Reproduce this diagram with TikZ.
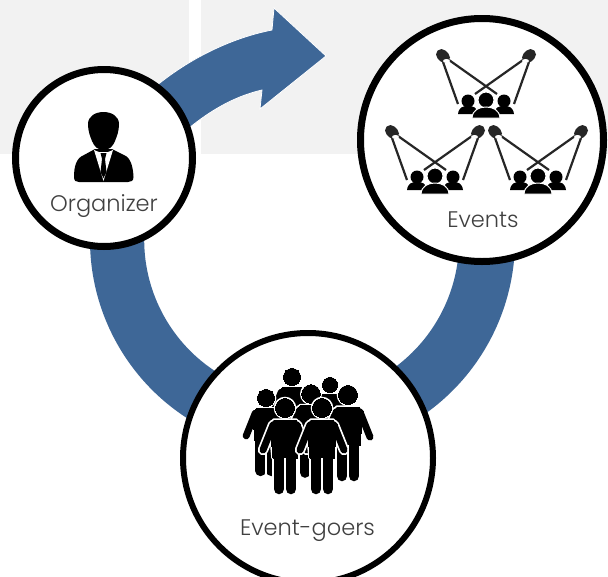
\documentclass[tikz,border=0pt]{standalone}
\usepackage{fontspec}
\setmainfont{Poppins Light}
\definecolor{ringblue}{HTML}{3E6797}
\definecolor{panelgrey}{HTML}{F2F2F2}
\definecolor{labelgrey}{HTML}{404040}
\tikzset{
  panel/.style={fill=panelgrey,draw=none},
  band/.style={fill=ringblue,draw=none},
  arrowband/.style={fill=ringblue,draw=white,line width=0.8pt,line join=miter},
  hub/.style={circle,draw=black,fill=white,inner sep=0pt},
  caption/.style={text=labelgrey,inner sep=0pt,font=\fontsize{22.5}{26}\selectfont},
  ink/.style={fill=black,draw=none}
}
% one standing figure: head at (#1,#2), scale #3
\newcommand\standingman[3]{%
  \begin{scope}[shift={(#1,#2)},scale=#3]
    \foreach \c/\w in {white/3.5,black/0}{%
      \path[fill=\c,draw=\c,line width=\w pt] (0,0) circle (9.5);
      \path[fill=\c,draw=\c,line width=\w pt,line join=round]
        (-11,12) -- (11,12) -- (15,16) -- (12,50) -- (-12,50) -- (-15,16) -- cycle;
      \draw[\c,line width=7pt+\w pt,line cap=round] (-12,17) -- (-22,42);
      \draw[\c,line width=7pt+\w pt,line cap=round] (12,17) -- (22,42);
      \draw[\c,line width=10.5pt+\w pt,line cap=round] (-6,48) -- (-6,81);
      \draw[\c,line width=10.5pt+\w pt,line cap=round] (6,48) -- (6,81);
    }
    \draw[white,line width=1.6pt] (0,50) -- (0,87);
  \end{scope}}
% one spotlight-and-audience group: centre head at (#1,#2)
\newcommand\showgroup[2]{%
  \begin{scope}[shift={(#1,#2)}]
    \foreach \s in {-1,1}{%
      \begin{scope}[xscale=\s]
        \draw[black!85,line width=2.2pt] (-43,-39) -- (-28,3);
        \draw[black!85,line width=2.2pt] (-37,-41) -- (11,-7);
        \draw[black!85,line width=11pt,line cap=round] (-44.5,-46.5) -- (-41.5,-43.5);
        \path[fill=white] (-39.5,-40) ellipse (3.5 and 2);
        \path[ink] (-18,0) circle (6.5);
        \path[ink] (-28,13) .. controls (-27,6) and (-23,5) .. (-18,5)
          .. controls (-13,5) and (-9,6) .. (-8,13) -- cycle;
      \end{scope}}
    \path[ink,draw=white,line width=1pt] (0,-1) circle (8);
    \path[ink,draw=white,line width=1pt] (-14,17) .. controls (-13.5,9) and (-7,6) .. (0,6)
      .. controls (7,6) and (13.5,9) .. (14,17) -- cycle;
  \end{scope}}
\begin{document}
\begin{tikzpicture}[x=1pt,y=-1pt]
\useasboundingbox (0,0) rectangle (608,576);
\path[fill=white] (0,0) rectangle (608,576);
\path[panel] (0,0) rectangle (189,154);
\path[panel] (201,0) rectangle (608,154);
% ring
\path[band] (90,240) arc[start angle=180,delta angle=-58,radius=212]
  -- (218,373) arc[start angle=122,delta angle=58,radius=157] -- cycle;
\path[band] (515,240) arc[start angle=0,delta angle=54,radius=213]
  -- (394,368) arc[start angle=54,delta angle=-54,radius=158] -- cycle;
% curved arrow
\path[arrowband] (140,100) .. controls (178,64) and (226,39) .. (272,30)
  -- (274,8) -- (326,56) -- (260,109) -- (262,90)
  .. controls (232,97) and (205,113) .. (175,140) -- cycle;
% hubs
\node[hub,line width=7pt,minimum size=177pt] (org) at (104,158) {};
\node[hub,line width=7pt,minimum size=243pt] (evt) at (482,140) {};
\node[hub,line width=6pt,minimum size=250pt] (goers) at (308,458) {};
\node[caption] (orglabel) at (104,206) {Organizer};
\node[caption] (evtlabel) at (483,220) {Events};
\node[caption] (goerslabel) at (307.5,531) {Event-goers};
% organizer icon
\path[ink] (74,177) .. controls (74,167) and (76,158) .. (84,155)
  -- (95,149) -- (112,149) -- (124,155)
  .. controls (131,158) and (133,167) .. (133.5,177)
  .. controls (133.5,181) and (131,182) .. (128,182) -- (79,182)
  .. controls (76,182) and (74,181) .. (74,177) -- cycle;
\path[fill=white] (94,150) -- (103.5,181) -- (113,150) -- (108,152) -- (99,152) -- cycle;
\path[ink] (100.5,153) -- (106.5,153) -- (105,159) -- (106.5,172) -- (103.5,178) -- (100.5,172) -- (102,159) -- cycle;
\path[ink] (88,124) .. controls (88,108) and (119,108) .. (119,124)
  .. controls (119,131) and (117,136) .. (115,141)
  .. controls (111,153) and (96,153) .. (92,141)
  .. controls (90,136) and (88,131) .. (88,124) -- cycle;
% events icons
\showgroup{486}{101}
\showgroup{435}{177}
\showgroup{538}{177}
% crowd
\standingman{292}{377}{0.9}
\standingman{330}{385}{0.8}
\standingman{311}{394}{0.97}
\standingman{266}{398}{0.9}
\standingman{348}{395}{1.0}
\standingman{285}{408}{1}
\standingman{322}{408}{1}
\end{tikzpicture}
\end{document}
